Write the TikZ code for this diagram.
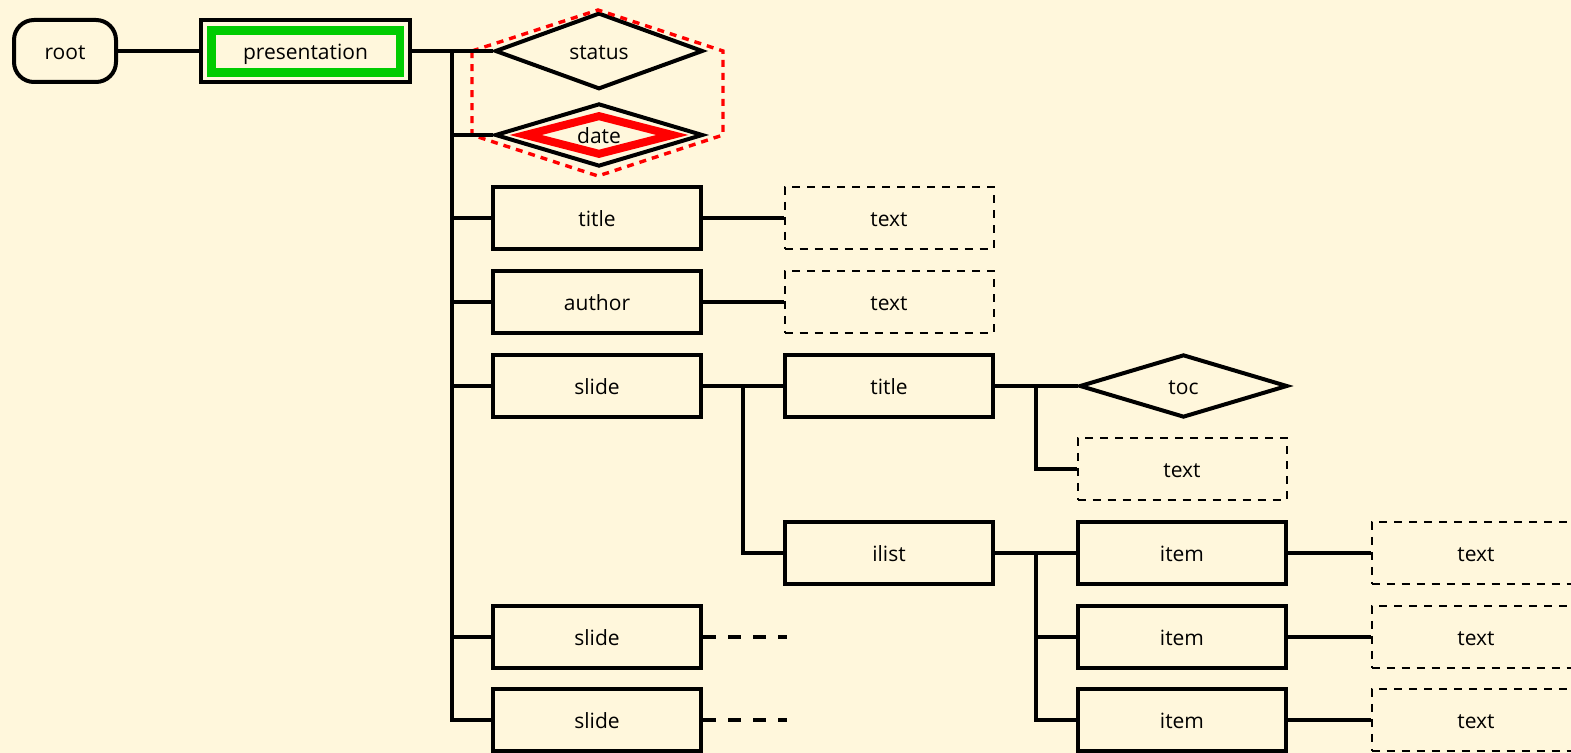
\documentclass[tikz,border=0pt]{standalone}
\usepackage{fontspec}
\setmainfont{Open Sans}
\usetikzlibrary{shapes.geometric}
\definecolor{bg}{RGB}{255,247,220}
\definecolor{grn}{RGB}{0,204,0}
\definecolor{rd}{RGB}{255,0,0}
\begin{document}
\begin{tikzpicture}[x=0.5pt,y=-0.5pt,
  lbl/.style={font=\fontsize{10.5}{12}\selectfont, text height=8.5pt, text depth=0pt},
  box/.style={lbl, draw, line width=2pt, minimum width=104pt, minimum height=31pt, inner sep=0pt},
  txtbox/.style={box, minimum width=104.5pt, line width=1pt, dash pattern=on 4pt off 3.5pt},
  dia/.style={lbl, draw, diamond, line width=2pt, minimum width=104pt, minimum height=31.5pt, inner sep=0pt},
  rootbox/.style={lbl, draw, line width=2pt, rounded corners=10pt, minimum width=51pt, minimum height=31pt, inner sep=0pt},
  conn/.style={line width=2pt},
  stub/.style={line width=2pt, dash pattern=on 6.5pt off 6pt},
  hexa/.style={draw=rd, line width=1.7pt, dash pattern=on 3.5pt off 3pt},
]
\useasboundingbox[fill=bg] (0,0) rectangle (1571,753);
% nodes
\node[rootbox] (root) at (65,51) {root};
\node[box, minimum width=104.5pt] (pres) at (305.5,51) {presentation};
\node[draw=grn, line width=4.25pt, minimum width=94.25pt, minimum height=21pt, inner sep=0pt] (presin) at (305.75,51.5) {};
\node[dia] (status) at (599,51) {status};
\node[dia] (date) at (599,135) {date};
\node[diamond, draw=rd, line width=4pt, minimum width=75pt, minimum height=20.5pt, inner sep=0pt] (datein) at (date.center) {};
\node[box] (title) at (597,218) {title};
\node[box] (author) at (597,302) {author};
\node[box] (slide) at (597,386) {slide};
\node[box] (slideb) at (597,637) {slide};
\node[box] (slidec) at (597,720) {slide};
\node[txtbox] (ttext) at (889,218) {text};
\node[txtbox] (atext) at (889,302) {text};
\node[box] (stitle) at (889,386) {title};
\node[box] (ilist) at (889,553) {ilist};
\node[dia] (toc) at (1183.5,386) {toc};
\node[txtbox] (sttext) at (1182,469) {text};
\node[box] (itema) at (1182,553) {item};
\node[box] (itemb) at (1182,637) {item};
\node[box] (itemc) at (1182,720) {item};
\node[txtbox] (texta) at (1476,553) {text};
\node[txtbox] (textb) at (1476,637) {text};
\node[txtbox] (textc) at (1476,720) {text};
% hexagon group
\draw[hexa] (472,51) -- (598,10) -- (723,51) -- (723,135) -- (598,176) -- (472,135) -- cycle;
% trunk coordinates
\coordinate (t1) at (452,51);
\coordinate (t2) at (743,386);
\coordinate (t3) at (1036,386);
\coordinate (t4) at (1036,553);
\coordinate (sb) at (787,637);
\coordinate (sc) at (787,720);
% connectors
\draw[conn] (root.east) -- (pres.west);
\draw[conn] (pres.east) -- (status.west);
\draw[conn] (t1) |- (slidec.west);
\foreach \n in {date,title,author,slide,slideb} \draw[conn] (t1 |- \n.west) -- (\n.west);
\draw[conn] (title.east) -- (ttext.west);
\draw[conn] (author.east) -- (atext.west);
\draw[conn] (slide.east) -- (stitle.west);
\draw[conn] (t2) |- (ilist.west);
\draw[conn] (stitle.east) -- (toc.west);
\draw[conn] (t3) |- (sttext.west);
\draw[conn] (ilist.east) -- (itema.west);
\draw[conn] (t4) |- (itemc.west);
\draw[conn] (t4 |- itemb.west) -- (itemb.west);
\draw[conn] (itema.east) -- (texta.west);
\draw[conn] (itemb.east) -- (textb.west);
\draw[conn] (itemc.east) -- (textc.west);
\draw[stub] (slideb.east) -- (sb);
\draw[stub] (slidec.east) -- (sc);
\end{tikzpicture}
\end{document}
